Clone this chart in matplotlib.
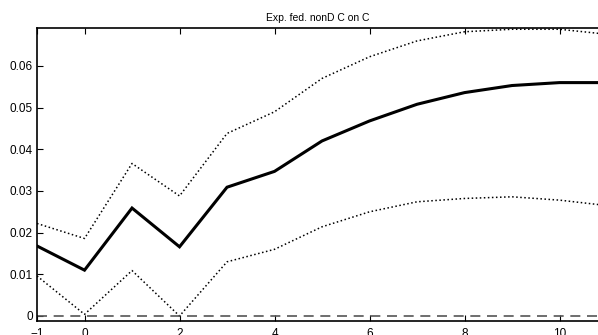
import numpy as np
import matplotlib.pyplot as plt

plt.rcParams['font.family'] = ['Liberation Sans', 'DejaVu Sans']

# Horizonte e respostas
h = [-1, 0, 1, 2, 3, 4, 5, 6, 7, 8, 9, 10, 11]
resp = [0.0168, 0.0110, 0.0259, 0.0166, 0.0309, 0.0347, 0.0420, 0.0468, 0.0508, 0.0536, 0.0553, 0.0560, 0.0560]
upper = [0.0222, 0.0186, 0.0366, 0.0288, 0.0438, 0.0490, 0.0570, 0.0622, 0.0660, 0.0682, 0.0688, 0.0688, 0.0676]
lower = [0.0096, 0.0004, 0.0109, 0.0000, 0.0130, 0.0160, 0.0214, 0.0250, 0.0274, 0.0282, 0.0286, 0.0278, 0.0265]
xticks = [-1, 0, 2, 4, 6, 8, 10]
yticks = [0, 0.01, 0.02, 0.03, 0.04, 0.05, 0.06]
titulo = "Exp. fed. nonD C on C"

fig = plt.figure(figsize=(5.98, 3.35), dpi=100)
ax = fig.add_axes([0.0619, 0.0418, 0.9381, 0.8746])

ax.plot(h, resp, color='black', linewidth=2.2, solid_joinstyle='miter')
ax.plot(h, upper, color='black', linestyle=':', linewidth=1.1)
ax.plot(h, lower, color='black', linestyle=':', linewidth=1.1)
ax.axhline(0, color='#555555', linestyle=(0, (6, 4)), linewidth=1.2)

ax.set_xlim(-1, 10.81)
ax.set_ylim(-0.0012, 0.0691)
ax.set_xticks(xticks)
ax.set_xticklabels(['\u22121', '0', '2', '4', '6', '8', '10'])
ax.set_yticks(yticks)
ax.set_yticklabels(['0', '0.01', '0.02', '0.03', '0.04', '0.05', '0.06'])
ax.tick_params(direction='in', top=True, labelsize=8.5, length=4, width=0.8)
ax.tick_params(axis='x', pad=5)
ax.tick_params(axis='y', pad=3)
ax.spines['right'].set_visible(False)
ax.spines['left'].set_linewidth(1.2)
ax.spines['bottom'].set_linewidth(1.2)
ax.spines['top'].set_linewidth(1.2)
ax.set_title(titulo, fontsize=7.5, pad=5)

plt.savefig('out.png', dpi=100)
